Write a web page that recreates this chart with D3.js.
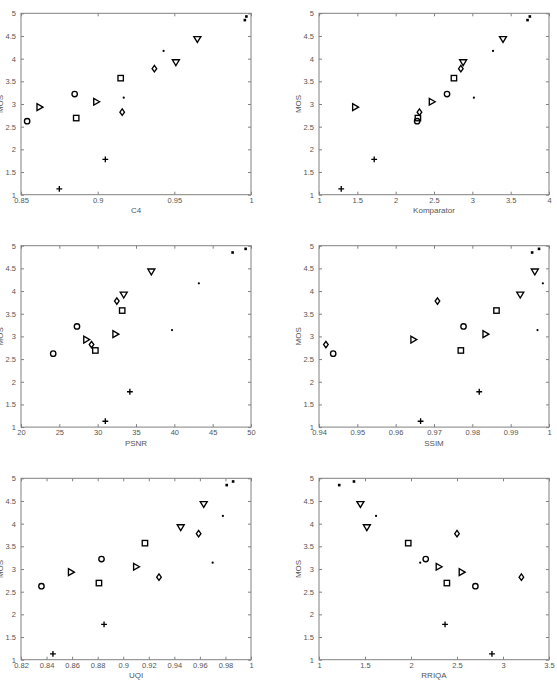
<!DOCTYPE html>
<html>
<head>
<meta charset="utf-8">
<script src="https://cdn.jsdelivr.net/npm/d3@7"></script>
<style>
  body { margin: 0; background: #fff; }
  .axis text { font-family: "Liberation Sans", Arial, sans-serif; font-size: 7.5px; fill: #555; }
  .axis line { stroke: #808080; }
  .axis path { display: none; }
  .frame { fill: none; stroke: #808080; stroke-width: 1; }
  .label { font-family: "Liberation Sans", Arial, sans-serif; font-size: 8px; fill: #555; }
</style>
</head>
<body>
<svg id="chart" width="557" height="690"></svg>
<script>
//MOS vs. six quality metrics, one scatter plot per metric.

//marker of each point (8 groups, 2 images each)
var symbols = ["o","o", ">",">", "s","s", "d","d", "v","v", "+","+", ".",".", "x","x"];
var mos = [2.62,3.22, 2.93,3.05, 2.69,3.57, 2.82,3.78, 3.92,4.43, 1.13,1.78, 3.14,4.17, 4.85,4.93];

var c4 = [0.854,0.885, 0.862,0.899, 0.886,0.915, 0.916,0.937, 0.951,0.965, 0.875,0.905, 0.917,0.943, 0.996,0.997];
var komparator = [2.28,2.67, 1.47,2.47, 2.29,2.76, 2.31,2.85, 2.88,3.40, 1.29,1.72, 3.02,3.27, 3.72,3.75];
var psnr = [24.2,27.3, 28.5,32.3, 29.7,33.2, 29.2,32.5, 33.4,37.0, 31.0,34.2, 39.7,43.2, 47.6,49.3];
var ssim = [0.9437,0.9777, 0.9646,0.9834, 0.9770,0.9863, 0.9418,0.9709, 0.9925,0.9963, 0.9665,0.9818, 0.9970,0.9984, 0.9956,0.9974];
var uqi = [0.836,0.883, 0.859,0.910, 0.881,0.917, 0.928,0.959, 0.945,0.963, 0.845,0.885, 0.970,0.978, 0.981,0.986];
var rriqa = [2.70,2.16, 2.55,2.30, 2.39,1.97, 3.20,2.50, 1.52,1.45, 2.88,2.37, 2.10,1.62, 1.22,1.38];

var c4Ticks = [0.85,0.9,0.95,1];
var komparatorTicks = [1,1.5,2,2.5,3,3.5,4];
var psnrTicks = [20,25,30,35,40,45,50];
var ssimTicks = [0.94,0.95,0.96,0.97,0.98,0.99,1];
var uqiTicks = [0.82,0.84,0.86,0.88,0.9,0.92,0.94,0.96,0.98,1];
var rriqaTicks = [1,1.5,2,2.5,3,3.5];
var mosTicks = [1,1.5,2,2.5,3,3.5,4,4.5,5];

var panels = [
  {name:"C4", x:c4, ticks:c4Ticks},
  {name:"Komparator", x:komparator, ticks:komparatorTicks},
  {name:"PSNR", x:psnr, ticks:psnrTicks},
  {name:"SSIM", x:ssim, ticks:ssimTicks},
  {name:"UQI", x:uqi, ticks:uqiTicks},
  {name:"RRIQA", x:rriqa, ticks:rriqaTicks}
];

var svg = d3.select("#chart");
var cols = [21, 319];
var rows = [13.3, 245.7, 478.3];
var pw = 230, ph = 181.4;
var fmt = d => String(+d.toFixed(4));

var drawMarker = function(g, type, cx, cy){
  let m = g.append("g").attr("transform","translate("+cx+","+cy+")");
  let el;
  if(type==="o"){
    el = m.append("circle").attr("r",2.7);
  } else if(type==="s"){
    el = m.append("rect").attr("x",-2.7).attr("y",-2.7).attr("width",5.4).attr("height",5.4);
  } else if(type==="d"){
    el = m.append("path").attr("d","M0,-3.2L2.3,0L0,3.2L-2.3,0Z");
  } else if(type===">"){
    el = m.append("path").attr("d","M3.5,0L-2.4,-3.4L-2.4,3.4Z");
  } else if(type==="v"){
    el = m.append("path").attr("d","M0,3.3L-3.5,-2.5L3.5,-2.5Z");
  } else if(type==="+"){
    el = m.append("path").attr("d","M-2.9,0H2.9M0,-2.9V2.9");
  } else if(type==="."){
    m.append("circle").attr("r",1.1).attr("fill","#000");
    return;
  } else {
    m.append("rect").attr("x",-1.3).attr("y",-1.3).attr("width",2.6).attr("height",2.6).attr("fill","#000");
    return;
  }
  el.attr("stroke","#000").attr("stroke-width",1.35).attr("fill","none");
};

panels.forEach(function(p, i){
  let left = cols[i%2], top = rows[Math.floor(i/2)];
  let g = svg.append("g").attr("transform","translate("+left+","+top+")");

  let xScale = d3.scaleLinear().domain([p.ticks[0], p.ticks[p.ticks.length-1]]).range([0,pw]);
  let yScale = d3.scaleLinear().domain([1,5]).range([ph,0]);

  //inward ticks on all four sides, labels only bottom and left
  g.append("g").classed("axis",true).attr("transform","translate(0,"+ph+")")
    .call(d3.axisBottom(xScale).tickValues(p.ticks).tickFormat(fmt).tickSizeInner(-3).tickSizeOuter(0).tickPadding(3));
  g.append("g").classed("axis",true)
    .call(d3.axisTop(xScale).tickValues(p.ticks).tickFormat("").tickSizeInner(-3).tickSizeOuter(0));
  g.append("g").classed("axis",true)
    .call(d3.axisLeft(yScale).tickValues(mosTicks).tickFormat(fmt).tickSizeInner(-3).tickSizeOuter(0).tickPadding(5));
  g.append("g").classed("axis",true).attr("transform","translate("+pw+",0)")
    .call(d3.axisRight(yScale).tickValues(mosTicks).tickFormat("").tickSizeInner(-3).tickSizeOuter(0));

  g.append("rect").classed("frame",true).attr("width",pw).attr("height",ph);

  g.append("text").classed("label",true)
    .attr("x",pw/2).attr("y",ph+18.5)
    .attr("text-anchor","middle")
    .text(p.name);

  g.append("text").classed("label",true)
    .attr("transform","translate(-18.5,"+(ph/2)+") rotate(-90)")
    .attr("text-anchor","middle")
    .text("MOS");

  p.x.forEach(function(v, j){
    drawMarker(g, symbols[j], xScale(v), yScale(mos[j]));
  });
});
</script>
</body>
</html>
